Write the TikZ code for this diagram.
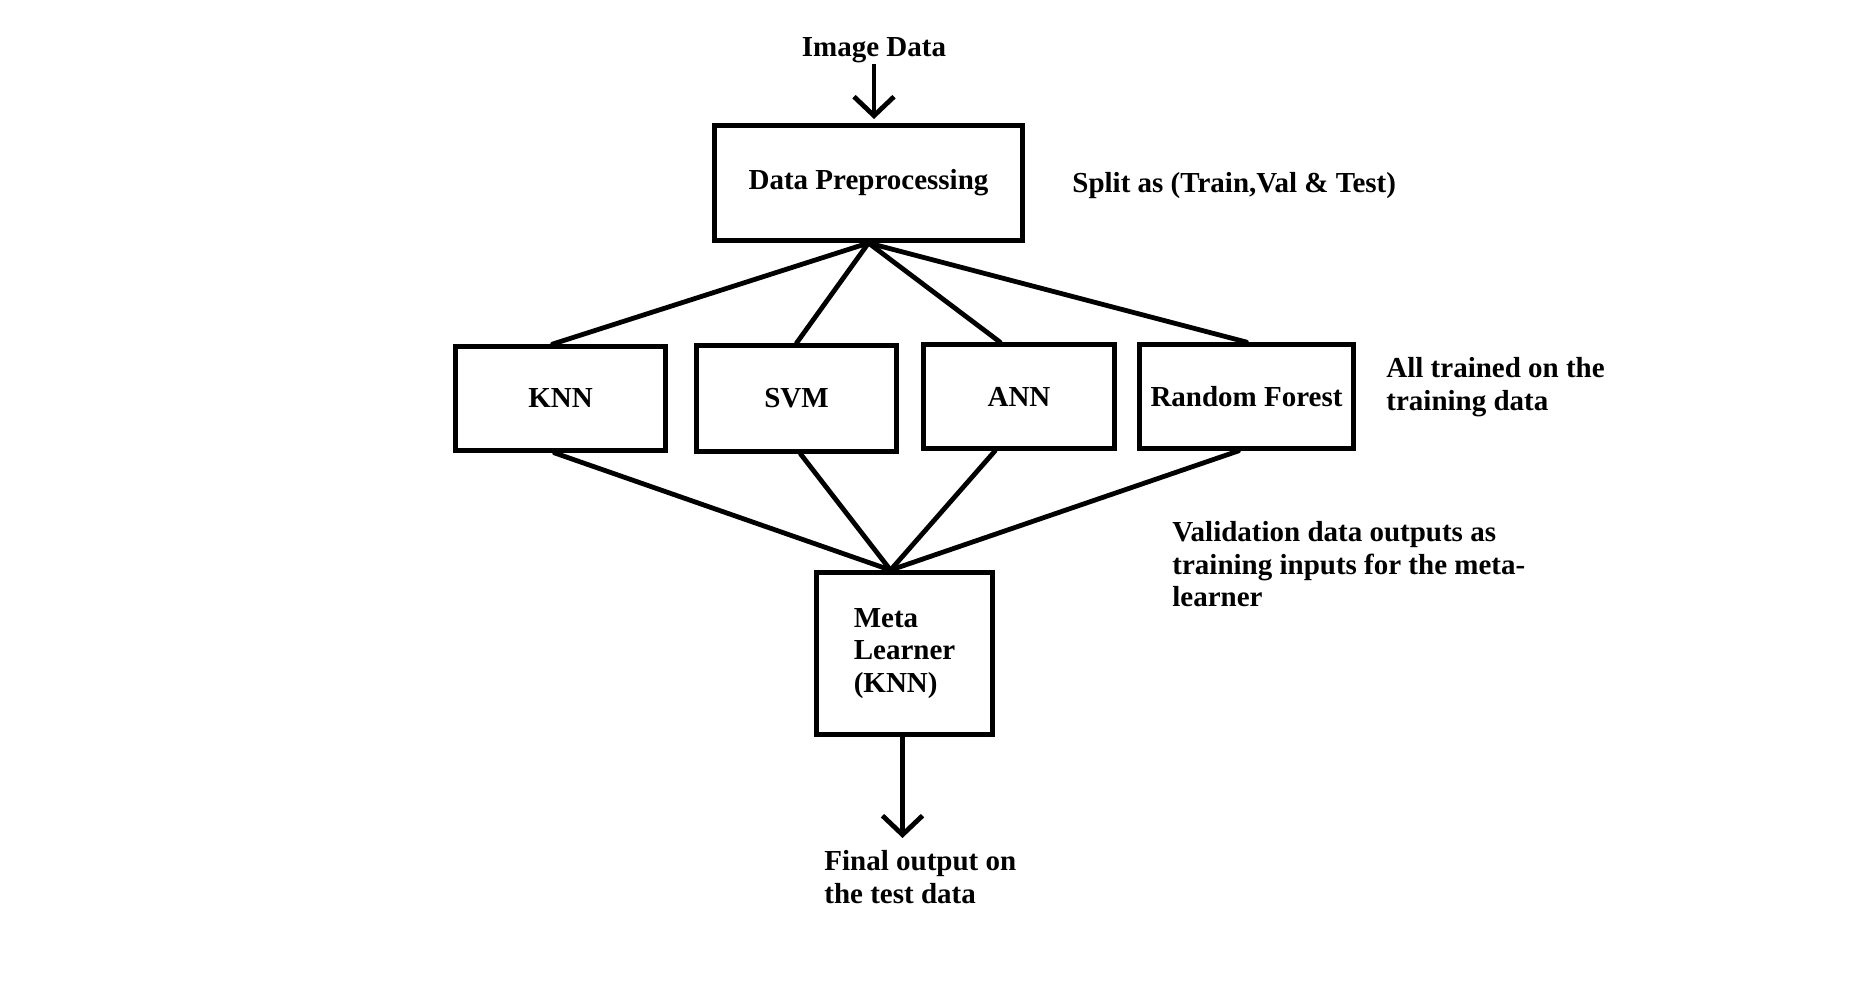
\documentclass[tikz,border=0pt]{standalone}
\usepackage{fontspec}
\setmainfont{Liberation Serif}
\usetikzlibrary{arrows.meta}

\tikzset{
  lbl/.style={font=\fontsize{14.5}{16.25}\selectfont\bfseries},
  blk/.style={draw, line width=2.4pt, inner sep=0pt, lbl},
  txt/.style={inner sep=0pt, align=left, lbl},
  link/.style={line width=2.4pt, line cap=round},
  flow/.style={line width=2.4pt, -{Straight Barb[length=9.5pt,width=20pt]}},
}

\begin{document}
\begin{tikzpicture}[x=0.5pt,y=-0.5pt]
  \useasboundingbox (0,0) rectangle (1852,984);
  % boxes
  \node[blk, minimum width=154pt, minimum height=57.6pt] (prep) at (868.5,183) {Data Preprocessing};
  \node[blk, minimum width=105pt, minimum height=52pt] (knn) at (560.5,398.5) {KNN};
  \node[blk, minimum width=100pt, minimum height=53pt] (svm) at (796.5,398.5) {SVM};
  \node[blk, minimum width=95.5pt, minimum height=52pt] (ann) at (1019,396.5) {ANN};
  \node[blk, minimum width=107pt, minimum height=52pt] (rf) at (1246.5,396.5) {Random Forest};
  \node[blk, align=left, minimum width=88pt, minimum height=81pt] (meta) at (904.5,653.5) {Meta\\Learner\\(KNN)};
  % side texts
  \node[txt, anchor=base] (img) at (874,57) {Image Data};
  \node[txt, anchor=base west] (split) at (1072,193) {Split as (Train,Val \& Test)};
  \node[txt, anchor=north west] (trained) at (1386,357) {All trained on the\\training data};
  \node[txt, anchor=north west] (valid) at (1172,521) {Validation data outputs as\\training inputs for the meta-\\learner};
  \node[txt, anchor=north west] (final) at (824,850) {Final output on\\the test data};
  % arrows
  \draw[flow, shorten >=2pt] (img.south) -- (img.south |- prep.north);
  \draw[flow, shorten >=6pt] ([xshift=-1pt]meta.south) -- ([xshift=-1pt]meta.south |- final.north);
  % links
  \draw[link] (prep.south) -- ([xshift=-4pt]knn.north);
  \draw[link] (prep.south) -- (svm.north);
  \draw[link] (prep.south) -- ([xshift=-9.5pt]ann.north);
  \draw[link] (prep.south) -- (rf.north);
  \draw[link] ([xshift=-3pt]knn.south) -- ([xshift=-7pt]meta.north);
  \draw[link] ([xshift=2pt]svm.south) -- ([xshift=-7pt]meta.north);
  \draw[link] ([xshift=-12pt]ann.south) -- ([xshift=-7pt]meta.north);
  \draw[link] ([xshift=-4pt]rf.south) -- ([xshift=-7pt]meta.north);
\end{tikzpicture}
\end{document}
